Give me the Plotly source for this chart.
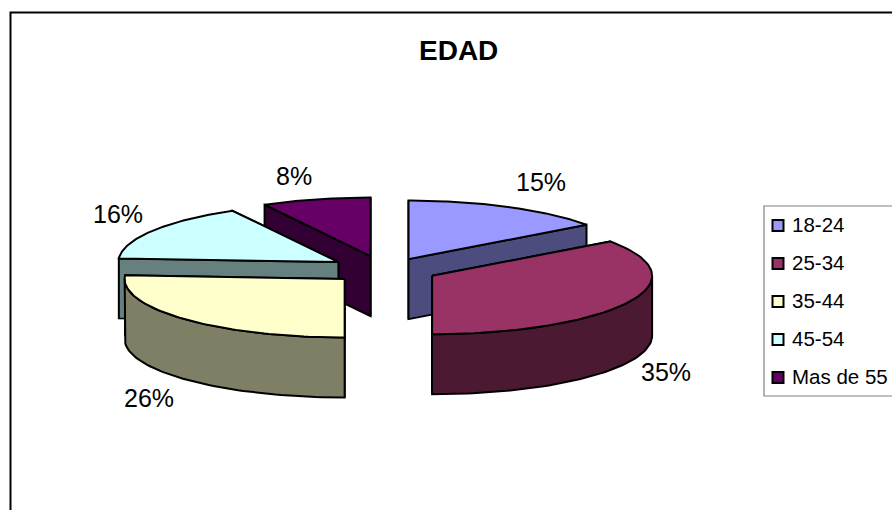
import numpy as np
import plotly.graph_objects as go

# Data
categories = ["18-24", "25-34", "35-44", "45-54", "Mas de 55"]
values = [15, 35, 26, 16, 8]
title_text = "EDAD"

# Styling / layout constants
top_colors = ["#9999FF", "#993366", "#FFFFCC", "#CCFFFF", "#660066"]
side_colors = ["#4C4C7F", "#4C1933", "#7F7F66", "#667F7F", "#330033"]
CX, CY = 384, 269.5      # pie centre
RX, RY = 220, 58.5       # ellipse radii
EX, EY = 54, 13.9        # explosion offsets
DEPTH = 60
draw_order = [4, 0, 3, 2, 1]
y_nudge = [2, 0, 0, 0, 0]
label_pos = [(541, 182), (666, 372), (149, 398), (118, 214), (294, 176)]
FONT = "Liberation Sans, Arial, sans-serif"

fractions = np.array(values, dtype=float) / sum(values)
ends = np.cumsum(fractions) * 2 * np.pi
starts = ends - fractions * 2 * np.pi

fig = go.Figure()


def poly(xs, ys, fill):
    xs = list(xs) + [xs[0]]
    ys = list(ys) + [ys[0]]
    fig.add_trace(go.Scatter(x=xs, y=ys, mode="lines", fill="toself", fillcolor=fill,
                             line=dict(color="black", width=2), hoverinfo="skip",
                             showlegend=False))


for i in draw_order:
    a0, a1 = starts[i], ends[i]
    mid = (a0 + a1) / 2
    ax = CX + EX * np.sin(mid)
    ay = CY - EY * np.cos(mid) + y_nudge[i]
    rim = lambda a: (ax + RX * np.sin(a), ay - RY * np.cos(a))

    # radial walls, farther one first
    for a in sorted([a0, a1], key=lambda t: rim(t)[1]):
        tx, ty = rim(a)
        poly([ax, tx, tx, ax], [ay, ty, ty + DEPTH, ay + DEPTH], side_colors[i])

    # outer wall: only the front facing part
    f0, f1 = max(a0, np.pi / 2), min(a1, 3 * np.pi / 2)
    if f1 > f0:
        t = np.linspace(f0, f1, 60)
        rx_, ry_ = rim(t)
        poly(np.r_[rx_, rx_[::-1]], np.r_[ry_, ry_[::-1] + DEPTH], side_colors[i])

    # top face
    t = np.linspace(a0, a1, 80)
    rx_, ry_ = rim(t)
    poly(np.r_[ax, rx_], np.r_[ay, ry_], top_colors[i])

# legend
LEG_X, LEG_TOP, LEG_STEP = 778, 225.5, 38
leg_y = [LEG_TOP + k * LEG_STEP for k in range(len(categories))]
fig.add_trace(go.Scatter(x=[LEG_X] * len(categories), y=leg_y, mode="markers", hoverinfo="skip",
                         marker=dict(symbol="square", size=11, color=top_colors,
                                     line=dict(color="black", width=2)),
                         showlegend=False))

annotations = [dict(x=458, y=50, text=f"<b>{title_text}</b>", showarrow=False,
                    font=dict(family=FONT, size=28, color="black"))]
for v, (lx, ly) in zip(values, label_pos):
    annotations.append(dict(x=lx, y=ly, text=f"{v}%", showarrow=False,
                            font=dict(family=FONT, size=25, color="black")))
for c, y in zip(categories, leg_y):
    annotations.append(dict(x=790, y=y - 1.5, text=c, showarrow=False, xanchor="left",
                            font=dict(family=FONT, size=20.5, color="black")))

fig.update_layout(
    width=892, height=510, margin=dict(l=0, r=0, t=0, b=0),
    paper_bgcolor="white", plot_bgcolor="white", showlegend=False,
    xaxis=dict(range=[0, 892], visible=False, fixedrange=True),
    yaxis=dict(range=[510, 0], visible=False, fixedrange=True),
    annotations=annotations,
    shapes=[
        dict(type="rect", x0=10.5, y0=12.5, x1=920, y1=540, line=dict(color="black", width=2), layer="below"),
        dict(type="rect", x0=764, y0=206, x1=920, y1=396, line=dict(color="#808080", width=1.2), layer="below"),
    ],
)
fig.write_html("out.html", config={"displayModeBar": False},
               post_script="document.body.style.margin='0';document.documentElement.style.overflow='hidden';")
